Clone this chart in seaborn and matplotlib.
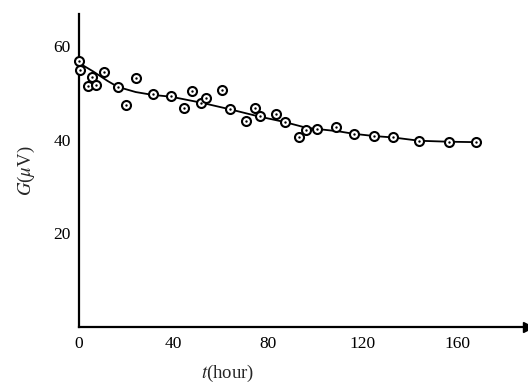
import numpy as np
import pandas as pd
import seaborn as sns
import matplotlib.pyplot as plt

# measured points (t in hours, G in microvolts)
t_pts = [0, 0.4, 5.6, 3.7, 7.1, 10.6, 16.4, 24, 19.9, 31.2, 38.9, 44.5, 48, 51.7,
         53.8, 60.7, 63.7, 70.8, 74.6, 76.4, 83.3, 87.3, 93.3, 96.1, 100.8, 108.8,
         116.2, 125, 132.8, 144, 156.5, 167.8]
g_pts = [56.9, 55.0, 53.4, 51.4, 51.8, 54.5, 51.2, 53.2, 47.5, 49.7, 49.3, 46.8, 50.4, 47.9,
         49.0, 50.7, 46.5, 44.0, 46.7, 45.0, 45.5, 43.8, 40.6, 42.2, 42.3, 42.8,
         41.3, 40.8, 40.6, 39.7, 39.6, 39.5]

# fitted curve as drawn
t_fit = [0, 6, 12, 16.4, 24, 31, 39, 45, 52, 64, 76, 87, 96, 101, 110, 116, 125, 133, 144, 156, 168]
g_fit = [56.4, 54.6, 52.6, 51.3, 50.2, 49.6, 49.2, 48.6, 47.9, 46.5, 45.0, 43.8, 42.6, 42.3,
         41.8, 41.3, 40.8, 40.5, 39.8, 39.6, 39.5]

x_ticks = [0, 40, 80, 120, 160]
y_ticks = [20, 40, 60]

sns.set_style("white")
plt.rcParams['font.family'] = ['Liberation Serif', 'DejaVu Serif']
plt.rcParams['mathtext.fontset'] = 'stix'

pts = pd.DataFrame({'t': t_pts, 'G': g_pts})
fit = pd.DataFrame({'t': t_fit, 'G': g_fit})

fig = plt.figure(figsize=(5.28, 3.84), dpi=100)
ax = fig.add_axes([0.1496, 0.148, 0.8504, 0.816])

sns.lineplot(data=fit, x='t', y='G', color='black', linewidth=1.3, ax=ax, sort=False)
sns.scatterplot(data=pts, x='t', y='G', s=42, facecolor='white', edgecolor='black',
                linewidth=1.5, ax=ax, zorder=3, clip_on=False)
sns.scatterplot(data=pts, x='t', y='G', s=3, color='black', linewidth=0, ax=ax, zorder=4, clip_on=False)

ax.set_xlim(0, 190)
ax.set_ylim(0, 66.9)
ax.set_xticks(x_ticks)
ax.set_yticks(y_ticks)
ax.tick_params(direction='in', length=5, width=1.2, labelsize=12.5, colors='black', pad=6)
for s in ['top', 'right']:
    ax.spines[s].set_visible(False)
for s in ['left', 'bottom']:
    ax.spines[s].set_linewidth(1.6)
    ax.spines[s].set_color('black')
ax.plot(1, 0, '>k', markersize=7, transform=ax.get_yaxis_transform(), clip_on=False)

ax.set_xlabel('$t$(hour)', fontsize=13.5, labelpad=1)
ax.set_ylabel('$G$($\\mu$V)', fontsize=13.5, labelpad=12)
ax.xaxis.set_label_coords(0.33, -0.115)

fig.savefig('out.png', dpi=100)
